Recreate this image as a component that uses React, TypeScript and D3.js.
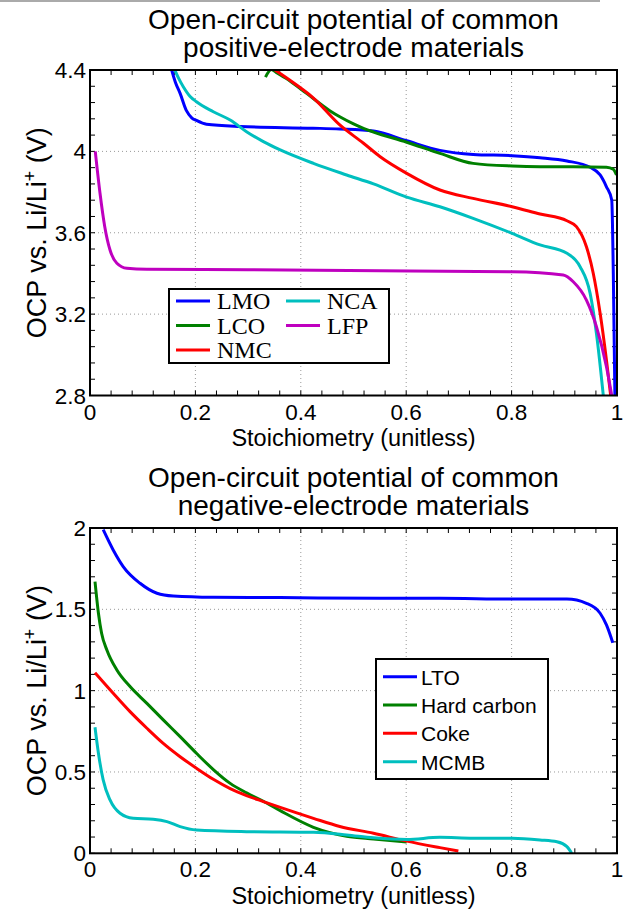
import React from "react";
import * as d3 from "d3";

type Pt = [number, number];

// ---------- Data ----------
const posNames = ["LMO", "LCO", "NMC", "NCA", "LFP"];
const posColors = ["#0000ff", "#008000", "#ff0000", "#00bfbf", "#bf00bf"];

const lmo: Pt[] = [[0.155, 4.4], [0.162, 4.34], [0.171, 4.285], [0.183, 4.2], [0.193, 4.165], [0.202, 4.152], [0.221, 4.133], [0.285, 4.122], [0.423, 4.114], [0.474, 4.11], [0.538, 4.1], [0.601, 4.052], [0.664, 4.005], [0.727, 3.985], [0.801, 3.979], [0.854, 3.969], [0.905, 3.953], [0.949, 3.922], [0.968, 3.884], [0.98, 3.826], [0.99, 3.761], [0.993, 3.4], [0.996, 2.8]];
const lco: Pt[] = [[0.333, 4.365], [0.344, 4.402], [0.355, 4.385], [0.38, 4.345], [0.411, 4.285], [0.455, 4.2], [0.474, 4.17], [0.5, 4.135], [0.52, 4.112], [0.538, 4.095], [0.601, 4.045], [0.664, 3.99], [0.727, 3.941], [0.801, 3.928], [0.854, 3.925], [0.917, 3.925], [0.98, 3.922], [0.993, 3.912], [0.999, 3.884]];
const nmc: Pt[] = [[0.351, 4.4], [0.39, 4.33], [0.424, 4.262], [0.474, 4.13], [0.519, 4.04], [0.55, 3.975], [0.601, 3.892], [0.664, 3.81], [0.727, 3.769], [0.801, 3.728], [0.854, 3.692], [0.905, 3.659], [0.923, 3.63], [0.942, 3.531], [0.955, 3.4], [0.968, 3.204], [0.98, 2.974], [0.988, 2.8]];
const nca: Pt[] = [[0.161, 4.4], [0.168, 4.36], [0.177, 4.318], [0.19, 4.27], [0.202, 4.244], [0.234, 4.195], [0.266, 4.154], [0.297, 4.097], [0.329, 4.048], [0.361, 4.007], [0.424, 3.941], [0.487, 3.884], [0.538, 3.84], [0.601, 3.775], [0.664, 3.728], [0.727, 3.671], [0.801, 3.597], [0.854, 3.54], [0.905, 3.499], [0.93, 3.433], [0.949, 3.302], [0.961, 3.105], [0.974, 2.8]];
const lfp: Pt[] = [[0.01, 4.0], [0.019, 3.794], [0.028, 3.63], [0.038, 3.515], [0.051, 3.45], [0.07, 3.425], [0.108, 3.42], [0.3, 3.418], [0.55, 3.413], [0.801, 3.408], [0.898, 3.392], [0.917, 3.359], [0.942, 3.269], [0.961, 3.138], [0.98, 2.941], [0.99, 2.8]];

const negNames = ["LTO", "Hard carbon", "Coke", "MCMB"];
const negColors = ["#0000ff", "#008000", "#ff0000", "#00bfbf"];

const lto: Pt[] = [[0.025, 1.99], [0.044, 1.865], [0.063, 1.763], [0.095, 1.66], [0.127, 1.599], [0.158, 1.582], [0.234, 1.574], [0.361, 1.572], [0.55, 1.568], [0.664, 1.568], [0.801, 1.563], [0.905, 1.563], [0.942, 1.537], [0.968, 1.476], [0.98, 1.404], [0.992, 1.295]];
const hardCarbon: Pt[] = [[0.0095, 1.67], [0.016, 1.476], [0.022, 1.353], [0.032, 1.25], [0.051, 1.127], [0.076, 1.025], [0.108, 0.922], [0.139, 0.82], [0.171, 0.717], [0.202, 0.615], [0.234, 0.515], [0.266, 0.43], [0.297, 0.372], [0.329, 0.32], [0.361, 0.262], [0.424, 0.16], [0.487, 0.105], [0.538, 0.088], [0.601, 0.07]];
const coke: Pt[] = [[0.0095, 1.11], [0.044, 0.984], [0.076, 0.871], [0.108, 0.769], [0.139, 0.676], [0.171, 0.594], [0.202, 0.523], [0.234, 0.455], [0.266, 0.398], [0.297, 0.355], [0.329, 0.318], [0.361, 0.282], [0.424, 0.215], [0.474, 0.165], [0.538, 0.123], [0.601, 0.075], [0.664, 0.035], [0.699, 0.014]];
const mcmb: Pt[] = [[0.0095, 0.775], [0.016, 0.615], [0.025, 0.451], [0.038, 0.328], [0.057, 0.246], [0.082, 0.215], [0.12, 0.209], [0.146, 0.195], [0.171, 0.164], [0.202, 0.143], [0.297, 0.133], [0.424, 0.129], [0.487, 0.113], [0.538, 0.095], [0.601, 0.085], [0.664, 0.098], [0.727, 0.092], [0.801, 0.092], [0.854, 0.082], [0.886, 0.071], [0.905, 0.041], [0.914, 0]];

const xTicks = [0, 0.2, 0.4, 0.6, 0.8, 1];
const xTickLabels = ["0", "0.2", "0.4", "0.6", "0.8", "1"];
const posYTicks = [2.8, 3.2, 3.6, 4, 4.4];
const posYTickLabels = ["2.8", "3.2", "3.6", "4", "4.4"];
const negYTicks = [0, 0.5, 1, 1.5, 2];
const negYTickLabels = ["0", "0.5", "1", "1.5", "2"];

const posTitle = ["Open-circuit potential of common", "positive-electrode materials"];
const negTitle = ["Open-circuit potential of common", "negative-electrode materials"];
const xLabel = "Stoichiometry (unitless)";

const SANS = "'Liberation Sans', Arial, Helvetica, sans-serif";
const SERIF = "'Liberation Serif', 'Times New Roman', serif";

type PanelProps = {
  id: string;
  top: number;
  bottom: number;
  yDomain: [number, number];
  yTicks: number[];
  yTickLabels: string[];
  yMinorStep: number;
  series: Pt[][];
  colors: string[];
  title: string[];
  legend: React.ReactNode;
};

const LEFT = 90;
const RIGHT = 617;

function Panel(p: PanelProps) {
  const x = d3.scaleLinear().domain([0, 1]).range([LEFT, RIGHT]);
  const y = d3.scaleLinear().domain(p.yDomain).range([p.bottom, p.top]);
  const line = d3
    .line<Pt>()
    .x((d) => x(d[0]))
    .y((d) => y(d[1]))
    .curve(d3.curveMonotoneX);
  const xMinor = d3.range(0, 1.0001, 0.04);
  const yMinor = d3.range(p.yDomain[0], p.yDomain[1] + 1e-6, p.yMinorStep);
  const tl = 5;
  const midY = (p.top + p.bottom) / 2;
  const midX = (LEFT + RIGHT) / 2;
  return (
    <g>
      <defs>
        <clipPath id={p.id}>
          <rect x={LEFT} y={p.top} width={RIGHT - LEFT} height={p.bottom - p.top} />
        </clipPath>
      </defs>
      {xTicks.slice(1, -1).map((t) => (
        <line key={"gx" + t} x1={x(t)} x2={x(t)} y1={p.top} y2={p.bottom} stroke="#999" strokeWidth={1} strokeDasharray="1,3" />
      ))}
      {p.yTicks.slice(1, -1).map((t) => (
        <line key={"gy" + t} x1={LEFT} x2={RIGHT} y1={y(t)} y2={y(t)} stroke="#999" strokeWidth={1} strokeDasharray="1,3" />
      ))}
      {xMinor.map((t, i) => (
        <g key={"tx" + i}>
          <line x1={x(t)} x2={x(t)} y1={p.bottom} y2={p.bottom - tl} stroke="#000" strokeWidth={1} />
          <line x1={x(t)} x2={x(t)} y1={p.top} y2={p.top + tl} stroke="#000" strokeWidth={1} />
        </g>
      ))}
      {yMinor.map((t, i) => (
        <g key={"ty" + i}>
          <line x1={LEFT} x2={LEFT + tl} y1={y(t)} y2={y(t)} stroke="#000" strokeWidth={1} />
          <line x1={RIGHT} x2={RIGHT - tl} y1={y(t)} y2={y(t)} stroke="#000" strokeWidth={1} />
        </g>
      ))}
      <g clipPath={`url(#${p.id})`}>
        {p.series.map((s, i) => (
          <path key={i} d={line(s) || ""} fill="none" stroke={p.colors[i]} strokeWidth={3} strokeLinejoin="round" />
        ))}
      </g>
      <rect x={LEFT} y={p.top} width={RIGHT - LEFT} height={p.bottom - p.top} fill="none" stroke="#000" strokeWidth={2} />
      {xTicks.map((t, i) => (
        <text key={"lx" + i} x={x(t)} y={p.bottom + 24} textAnchor="middle" fontFamily={SANS} fontSize={22.5}>
          {xTickLabels[i]}
        </text>
      ))}
      {p.yTicks.map((t, i) => (
        <text key={"ly" + i} x={LEFT - 4} y={y(t) + 8} textAnchor="end" fontFamily={SANS} fontSize={22.5}>
          {p.yTickLabels[i]}
        </text>
      ))}
      <text x={midX} y={p.bottom + 50.5} textAnchor="middle" fontFamily={SANS} fontSize={23.5}>
        {xLabel}
      </text>
      <text transform={`translate(46,${midY}) rotate(-90)`} textAnchor="middle" fontFamily={SANS} fontSize={27}>
        <tspan>OCP vs. Li/Li</tspan>
        <tspan dy={-10} fontSize={18}>+</tspan>
        <tspan dy={10}> (V)</tspan>
      </text>
      <text x={midX} y={p.top - 41} textAnchor="middle" fontFamily={SANS} fontSize={28}>
        {p.title[0]}
      </text>
      <text x={midX} y={p.top - 13} textAnchor="middle" fontFamily={SANS} fontSize={28}>
        {p.title[1]}
      </text>
      {p.legend}
    </g>
  );
}

function PosLegend() {
  const x0 = 169, y0 = 289, w = 220, h = 74;
  const rows = [301, 325.5, 350];
  const items = [
    { n: 0, col: 0, row: 0 },
    { n: 3, col: 1, row: 0 },
    { n: 1, col: 0, row: 1 },
    { n: 4, col: 1, row: 1 },
    { n: 2, col: 0, row: 2 },
  ];
  const colX = [176, 286];
  return (
    <g>
      <rect x={x0} y={y0} width={w} height={h} fill="#fff" stroke="#000" strokeWidth={2} />
      {items.map((it) => (
        <g key={it.n}>
          <line x1={colX[it.col]} x2={colX[it.col] + 34} y1={rows[it.row]} y2={rows[it.row]} stroke={posColors[it.n]} strokeWidth={3} />
          <text x={colX[it.col] + 41} y={rows[it.row] + 8} fontFamily={SERIF} fontSize={24}>
            {posNames[it.n]}
          </text>
        </g>
      ))}
    </g>
  );
}

function NegLegend() {
  const x0 = 376, y0 = 659, w = 172, h = 120;
  const rows = [676.7, 705, 733.3, 761.7];
  return (
    <g>
      <rect x={x0} y={y0} width={w} height={h} fill="#fff" stroke="#000" strokeWidth={2} />
      {negNames.map((n, i) => (
        <g key={n}>
          <line x1={383} x2={417} y1={rows[i]} y2={rows[i]} stroke={negColors[i]} strokeWidth={3} />
          <text x={421} y={rows[i] + 8} fontFamily={SANS} fontSize={21}>
            {n}
          </text>
        </g>
      ))}
    </g>
  );
}

export default function App() {
  return (
    <svg
      width={625}
      height={911}
      style={{ position: "absolute", left: 0, top: 0, background: "#fff" }}
    >
      <rect x={0} y={0} width={625} height={911} fill="#fff" />
      <line x1={0} x2={600} y1={1} y2={1} stroke="#aaa" strokeWidth={2} />
      <Panel
        id="clipPos"
        top={70}
        bottom={395.5}
        yDomain={[2.8, 4.4]}
        yTicks={posYTicks}
        yTickLabels={posYTickLabels}
        yMinorStep={0.08}
        series={[lmo, lco, nmc, nca, lfp]}
        colors={posColors}
        title={posTitle}
        legend={<PosLegend />}
      />
      <Panel
        id="clipNeg"
        top={528}
        bottom={853.3}
        yDomain={[0, 2]}
        yTicks={negYTicks}
        yTickLabels={negYTickLabels}
        yMinorStep={0.1}
        series={[lto, hardCarbon, coke, mcmb]}
        colors={negColors}
        title={negTitle}
        legend={<NegLegend />}
      />
    </svg>
  );
}
